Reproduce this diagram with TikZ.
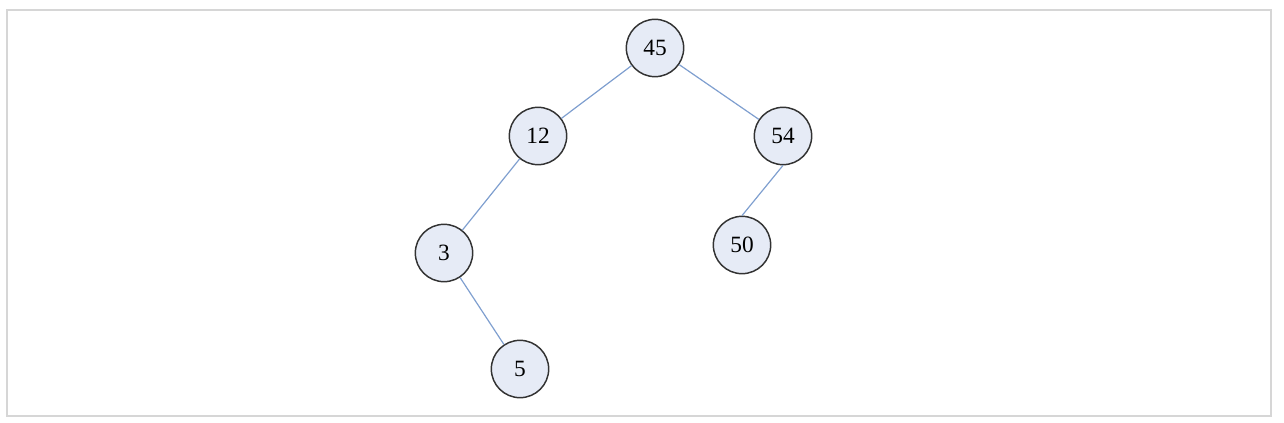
\documentclass[tikz,border=0pt]{standalone}
\usepackage{fontspec}
\setmainfont{Liberation Serif}
\definecolor{nodefill}{HTML}{E6EBF6}
\definecolor{edgeblue}{HTML}{7F9FCF}
\definecolor{framegray}{HTML}{D6D6D6}
\tikzset{
	keynode/.style={circle, draw=black!80, fill=nodefill, line width=1.1pt, minimum size=43pt, inner sep=0pt, font=\fontsize{17.5}{19}\selectfont},
	treeedge/.style={draw=edgeblue, line width=.9pt}
}
\begin{document}
\begin{tikzpicture}[x=.75pt, y=.75pt]
	\useasboundingbox (0,0) rectangle (1284,422);
	\draw[framegray, line width=1.2pt] (7,6) rectangle (1271,412);
	\node[keynode] (n45) at (655, 374) {45};
	\node[keynode] (n12) at (538, 286) {12};
	\node[keynode] (n54) at (783, 286) {54};
	\node[keynode] (n3) at (444, 169) {3};
	\node[keynode] (n50) at (742, 177) {50};
	\node[keynode] (n5) at (520, 53) {5};
	\draw[treeedge] (n45) -- (n12);
	\draw[treeedge] (n45) -- (n54);
	\draw[treeedge] (n12) -- (n3);
	\draw[treeedge] (n54.south) -- (n50.north);
	\draw[treeedge] (n3) -- (n5);
\end{tikzpicture}
\end{document}
